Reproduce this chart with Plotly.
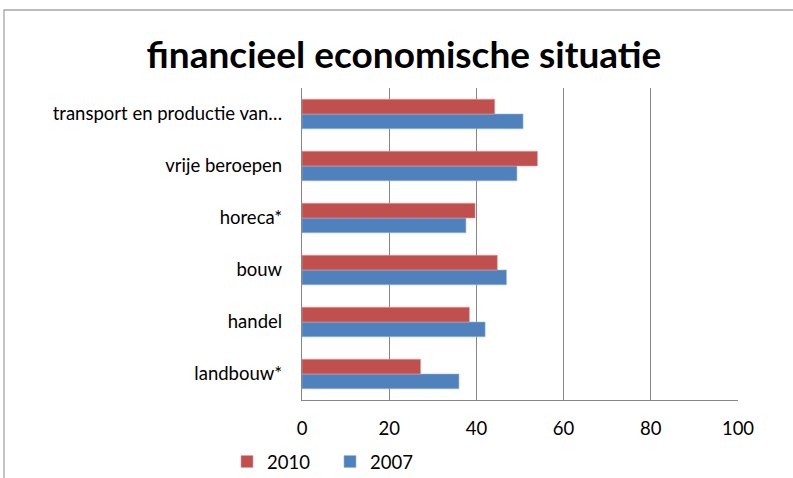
import plotly.graph_objects as go

# categories from bottom to top, as in the sheet
sectors = ["landbouw*", "handel", "bouw", "horeca*", "vrije beroepen",
           "transport en productie van…"]
vals_2010 = [27.2, 38.4, 44.8, 39.7, 54.0, 44.2]
vals_2007 = [36.0, 42.0, 46.9, 37.6, 49.3, 50.7]

red = "#C0504D"
blue = "#4F81BD"
grid = "#868686"
font = "Lato, 'Open Sans', sans-serif"

fig = go.Figure()
# 2007 first so it sits below 2010 inside each group
fig.add_trace(go.Bar(y=sectors, x=vals_2007, name="2007", orientation="h",
                     marker=dict(color=blue, line=dict(color="#9bb7dc", width=0.6)),
                     legendrank=2))
fig.add_trace(go.Bar(y=sectors, x=vals_2010, name="2010", orientation="h",
                     marker=dict(color=red, line=dict(color="#e0a09e", width=0.6)),
                     legendrank=1))

# plot area: x 302..738 px, y 88..400 px
L, R, T, B = 302, 738, 88, 400
def px_x(p):
    return (p - L) / (R - L)
def px_y(p):
    return (B - p) / (B - T)

fig.update_layout(
    width=793, height=478,
    margin=dict(l=L, r=793 - R, t=T, b=478 - B, autoexpand=False),
    paper_bgcolor="white", plot_bgcolor="white",
    barmode="group", bargap=0.43, bargroupgap=0,
    font=dict(family=font, size=18.5, color="black"),
    title=dict(text="<b>financieel economische situatie</b>",
               font=dict(family=font, size=37, color="black"),
               x=404 / 793, xanchor="center", xref="container",
               y=1 - 55 / 478, yanchor="middle", yref="container"),
    legend=dict(orientation="h", x=px_x(227), xanchor="left",
                y=px_y(462), yanchor="middle", bgcolor="rgba(0,0,0,0)",
                font=dict(size=18.5), itemwidth=30, entrywidth=58,
                traceorder="normal"),
    xaxis=dict(range=[0, 100], dtick=20, showgrid=True, gridcolor=grid,
               gridwidth=1.3, zeroline=False, showline=True, linecolor=grid,
               linewidth=1.3, ticks="", ticklabelstandoff=12, fixedrange=True,
               automargin=False),
    yaxis=dict(showgrid=False, showline=True, linecolor=grid, linewidth=1.3,
               ticks="", ticklabelstandoff=15, fixedrange=True,
               automargin=False),
    shapes=[dict(type="rect", xref="paper", yref="paper",
                 x0=px_x(4), x1=px_x(820), y0=px_y(510), y1=px_y(10),
                 line=dict(color="#a6a6a6", width=1.3), layer="below")],
)

fig.write_html("out.html", config={"displayModeBar": False},
               post_script="document.body.style.margin='0';")
